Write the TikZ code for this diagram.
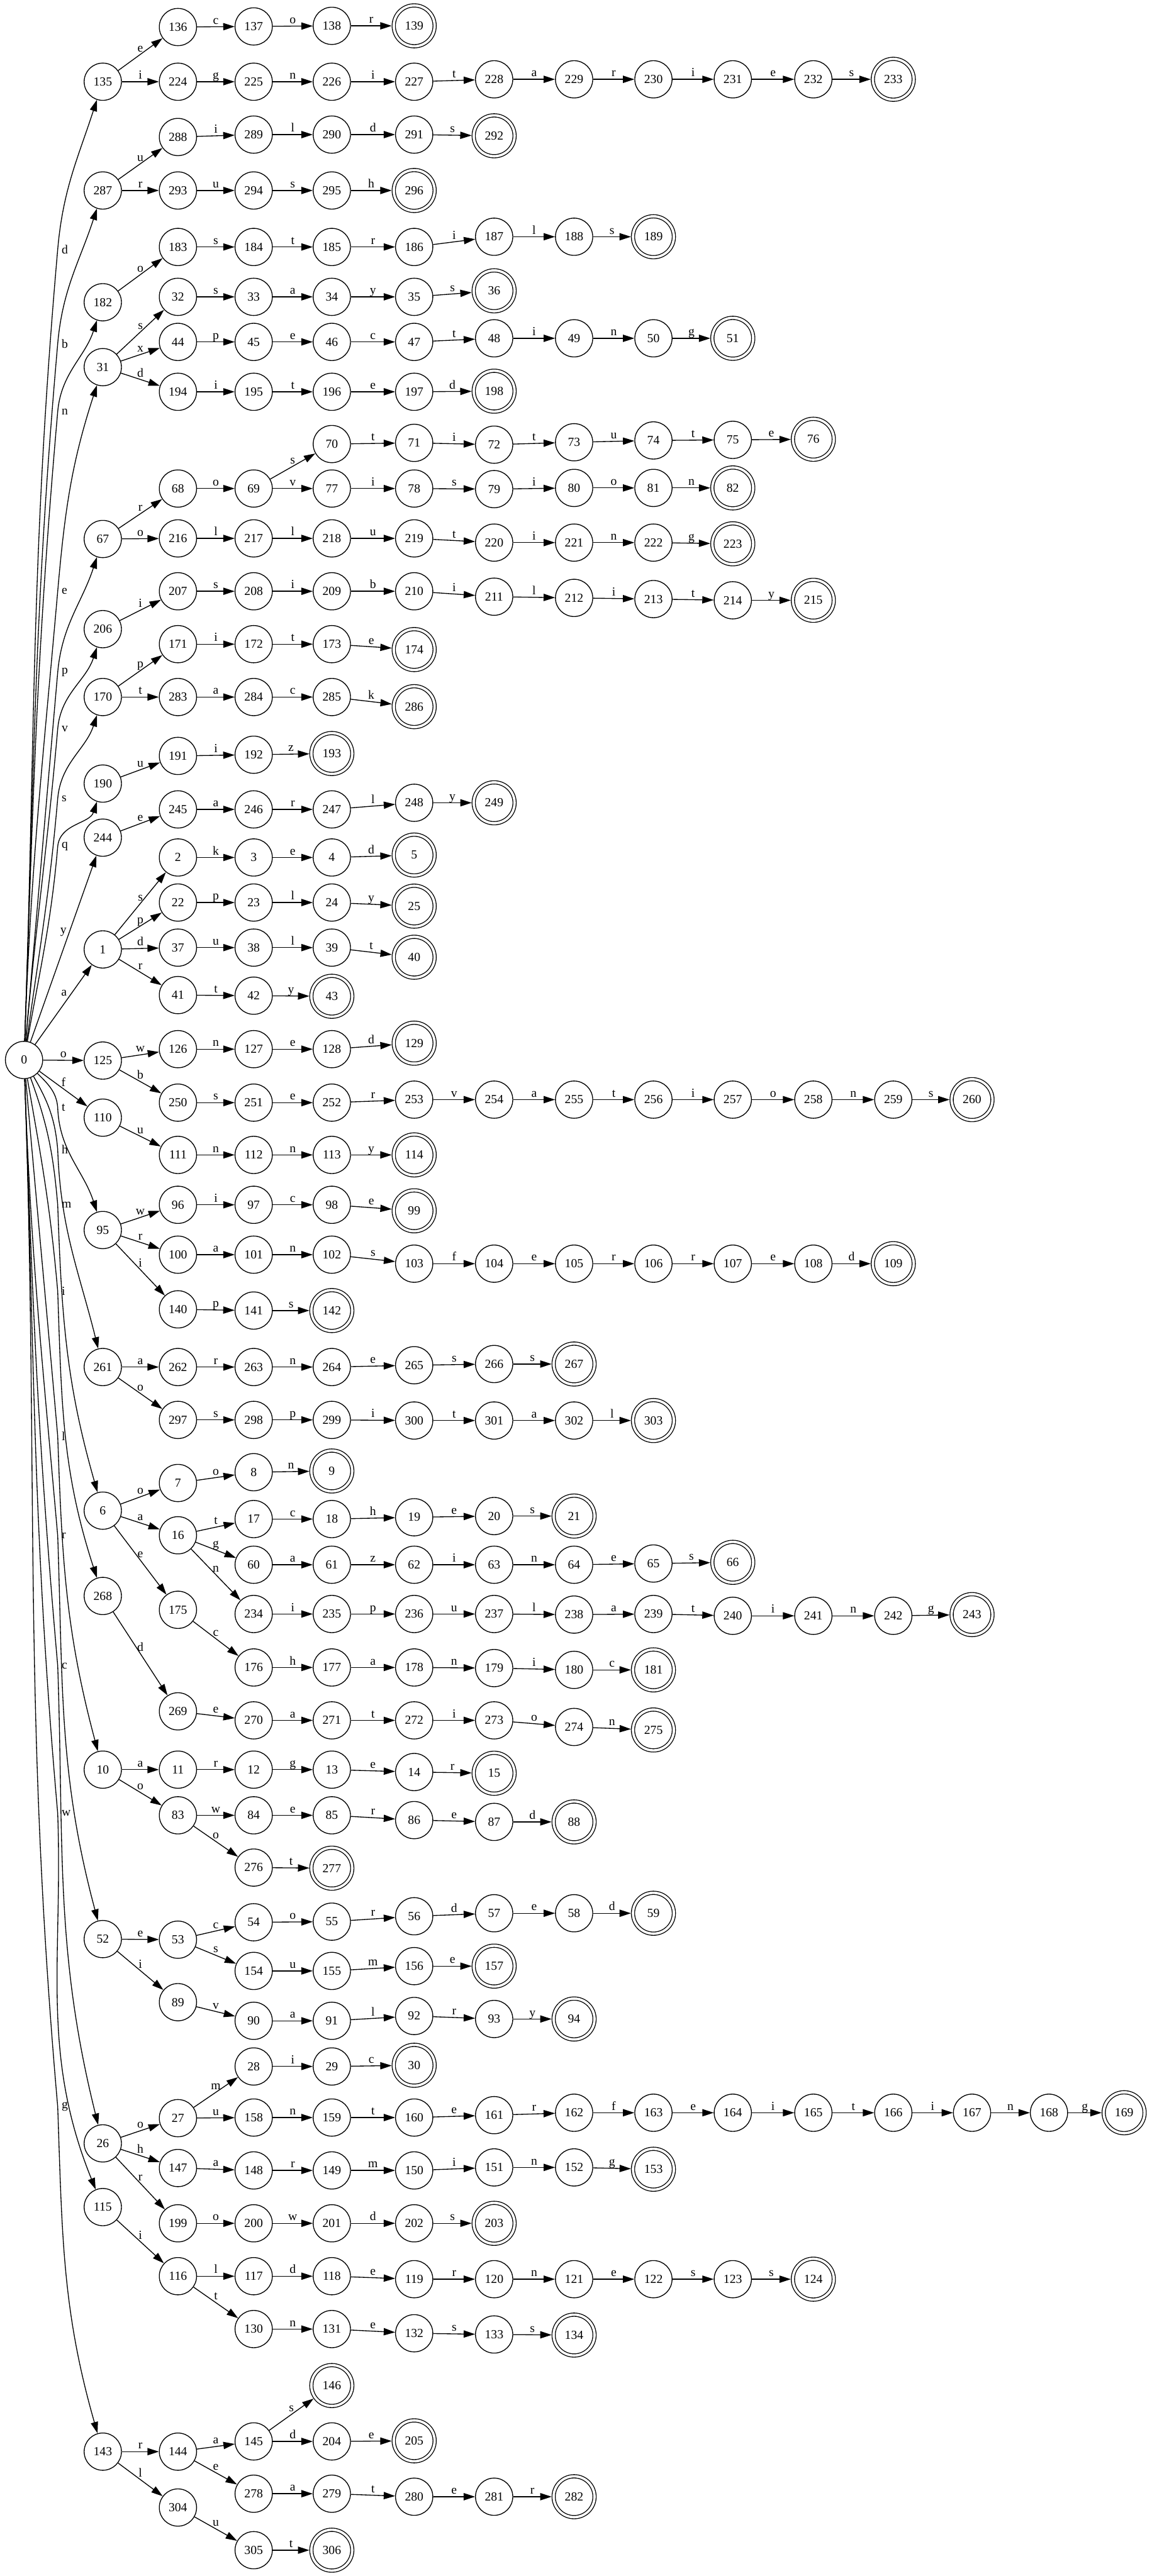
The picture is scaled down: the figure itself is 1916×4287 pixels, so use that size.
\documentclass[tikz,border=0pt]{standalone}
\usepackage{fontspec}
\setmainfont{Liberation Serif}
\usepackage{tikz}
\usetikzlibrary{positioning, arrows.meta}

\newcommand{\statefont}{\fontsize{10.3}{12}\selectfont}

\begin{document}
\begin{tikzpicture}[
    x=0.5pt, y=-0.5pt,
    state/.style={draw=black, line width=0.7pt, circle, minimum size=31pt, inner sep=0pt, font=\statefont},
    finalstate/.style={state, double, double distance=2pt, minimum size=34pt, outer sep=1.7pt},
    edge/.style={line width=0.7pt, -{Triangle[length=9.5pt, width=6pt]}},
    letter/.style={above, inner sep=1pt, font=\statefont, text height=1.4ex, text depth=0.2ex},
    rootletter/.style={inner sep=1pt, font=\statefont}
]

\useasboundingbox[fill=white] (0,0) rectangle (1916,4287);

% Knoten
\node[state] (s0) at (40,1764) {0};

\node[state] (s135) at (171,136) {135};
\node[state] (s136) at (296,45) {136};
\node[state] (s137) at (422,44) {137};
\node[state] (s138) at (552,43) {138};
\node[finalstate] (s139) at (689,43) {139};
\node[state] (s224) at (296,136) {224};
\node[state] (s225) at (422,136) {225};
\node[state] (s226) at (552,136) {226};
\node[state] (s227) at (689,136) {227};
\node[state] (s228) at (822,132) {228};
\node[state] (s229) at (955,132) {229};
\node[state] (s230) at (1087,132) {230};
\node[state] (s231) at (1219,132) {231};
\node[state] (s232) at (1353,132) {232};
\node[finalstate] (s233) at (1486,132) {233};

\node[state] (s287) at (171,317) {287};
\node[state] (s288) at (296,228) {288};
\node[state] (s289) at (422,224) {289};
\node[state] (s290) at (552,224) {290};
\node[state] (s291) at (689,224) {291};
\node[finalstate] (s292) at (822,226) {292};
\node[state] (s293) at (296,317) {293};
\node[state] (s294) at (422,317) {294};
\node[state] (s295) at (552,317) {295};
\node[finalstate] (s296) at (689,317) {296};

\node[state] (s182) at (171,503) {182};
\node[state] (s183) at (296,411) {183};
\node[state] (s184) at (422,411) {184};
\node[state] (s185) at (552,411) {185};
\node[state] (s186) at (689,411) {186};
\node[state] (s187) at (822,394) {187};
\node[state] (s188) at (955,394) {188};
\node[finalstate] (s189) at (1087,394) {189};

\node[state] (s31) at (171,611) {31};
\node[state] (s32) at (296,494) {32};
\node[state] (s33) at (422,494) {33};
\node[state] (s34) at (552,494) {34};
\node[state] (s35) at (689,494) {35};
\node[finalstate] (s36) at (822,484) {36};
\node[state] (s44) at (296,569) {44};
\node[state] (s45) at (422,569) {45};
\node[state] (s46) at (552,569) {46};
\node[state] (s47) at (689,569) {47};
\node[state] (s48) at (822,563) {48};
\node[state] (s49) at (955,563) {49};
\node[state] (s50) at (1087,563) {50};
\node[finalstate] (s51) at (1219,563) {51};
\node[state] (s194) at (296,652) {194};
\node[state] (s195) at (422,652) {195};
\node[state] (s196) at (552,652) {196};
\node[state] (s197) at (689,652) {197};
\node[finalstate] (s198) at (822,651) {198};

\node[state] (s67) at (171,897) {67};
\node[state] (s68) at (296,813) {68};
\node[state] (s69) at (422,813) {69};
\node[state] (s70) at (552,739) {70};
\node[state] (s71) at (689,737) {71};
\node[state] (s72) at (822,740) {72};
\node[state] (s73) at (955,736) {73};
\node[state] (s74) at (1087,733) {74};
\node[state] (s75) at (1219,732) {75};
\node[finalstate] (s76) at (1353,731) {76};
\node[state] (s77) at (552,813) {77};
\node[state] (s78) at (689,813) {78};
\node[state] (s79) at (822,814) {79};
\node[state] (s80) at (955,812) {80};
\node[state] (s81) at (1087,812) {81};
\node[finalstate] (s82) at (1219,812) {82};
\node[state] (s216) at (296,896) {216};
\node[state] (s217) at (422,896) {217};
\node[state] (s218) at (552,896) {218};
\node[state] (s219) at (689,896) {219};
\node[state] (s220) at (822,903) {220};
\node[state] (s221) at (955,903) {221};
\node[state] (s222) at (1087,903) {222};
\node[finalstate] (s223) at (1219,905) {223};

\node[state] (s206) at (171,1047) {206};
\node[state] (s207) at (296,984) {207};
\node[state] (s208) at (422,984) {208};
\node[state] (s209) at (552,984) {209};
\node[state] (s210) at (689,984) {210};
\node[state] (s211) at (822,993) {211};
\node[state] (s212) at (955,995) {212};
\node[state] (s213) at (1087,997) {213};
\node[state] (s214) at (1219,999) {214};
\node[finalstate] (s215) at (1353,999) {215};

\node[state] (s170) at (171,1160) {170};
\node[state] (s171) at (296,1072) {171};
\node[state] (s172) at (422,1072) {172};
\node[state] (s173) at (552,1072) {173};
\node[finalstate] (s174) at (689,1081) {174};
\node[state] (s283) at (296,1160) {283};
\node[state] (s284) at (422,1160) {284};
\node[state] (s285) at (552,1160) {285};
\node[finalstate] (s286) at (689,1176) {286};

\node[state] (s190) at (171,1304) {190};
\node[state] (s191) at (296,1258) {191};
\node[state] (s192) at (422,1256) {192};
\node[finalstate] (s193) at (552,1254) {193};

\node[state] (s244) at (171,1394) {244};
\node[state] (s245) at (296,1347) {245};
\node[state] (s246) at (422,1347) {246};
\node[state] (s247) at (552,1347) {247};
\node[state] (s248) at (689,1336) {248};
\node[finalstate] (s249) at (822,1336) {249};

\node[state] (s1) at (171,1580) {1};
\node[state] (s2) at (296,1427) {2};
\node[state] (s3) at (422,1427) {3};
\node[state] (s4) at (552,1427) {4};
\node[finalstate] (s5) at (689,1423) {5};
\node[state] (s22) at (296,1502) {22};
\node[state] (s23) at (422,1502) {23};
\node[state] (s24) at (552,1502) {24};
\node[finalstate] (s25) at (689,1508) {25};
\node[state] (s37) at (296,1577) {37};
\node[state] (s38) at (422,1577) {38};
\node[state] (s39) at (552,1577) {39};
\node[finalstate] (s40) at (689,1593) {40};
\node[state] (s41) at (296,1656) {41};
\node[state] (s42) at (422,1657) {42};
\node[finalstate] (s43) at (552,1658) {43};

\node[state] (s125) at (171,1765) {125};
\node[state] (s126) at (296,1746) {126};
\node[state] (s127) at (422,1746) {127};
\node[state] (s128) at (552,1746) {128};
\node[finalstate] (s129) at (689,1736) {129};
\node[state] (s250) at (296,1835) {250};
\node[state] (s251) at (422,1835) {251};
\node[state] (s252) at (552,1835) {252};
\node[state] (s253) at (689,1830) {253};
\node[state] (s254) at (822,1830) {254};
\node[state] (s255) at (955,1830) {255};
\node[state] (s256) at (1087,1830) {256};
\node[state] (s257) at (1219,1830) {257};
\node[state] (s258) at (1353,1830) {258};
\node[state] (s259) at (1486,1830) {259};
\node[finalstate] (s260) at (1617,1830) {260};

\node[state] (s110) at (171,1860) {110};
\node[state] (s111) at (296,1922) {111};
\node[state] (s112) at (422,1922) {112};
\node[state] (s113) at (552,1922) {113};
\node[finalstate] (s114) at (689,1922) {114};

\node[state] (s95) at (171,2047) {95};
\node[state] (s96) at (296,2005) {96};
\node[state] (s97) at (422,2005) {97};
\node[state] (s98) at (552,2005) {98};
\node[finalstate] (s99) at (689,2015) {99};
\node[state] (s100) at (296,2088) {100};
\node[state] (s101) at (422,2088) {101};
\node[state] (s102) at (552,2088) {102};
\node[state] (s103) at (689,2103) {103};
\node[state] (s104) at (822,2103) {104};
\node[state] (s105) at (955,2103) {105};
\node[state] (s106) at (1087,2103) {106};
\node[state] (s107) at (1219,2103) {107};
\node[state] (s108) at (1353,2103) {108};
\node[finalstate] (s109) at (1486,2103) {109};
\node[state] (s140) at (296,2179) {140};
\node[state] (s141) at (422,2181) {141};
\node[finalstate] (s142) at (552,2181) {142};

\node[state] (s261) at (171,2275) {261};
\node[state] (s262) at (296,2275) {262};
\node[state] (s263) at (422,2275) {263};
\node[state] (s264) at (552,2275) {264};
\node[state] (s265) at (689,2272) {265};
\node[state] (s266) at (822,2270) {266};
\node[finalstate] (s267) at (955,2270) {267};
\node[state] (s297) at (296,2363) {297};
\node[state] (s298) at (422,2363) {298};
\node[state] (s299) at (552,2363) {299};
\node[state] (s300) at (689,2364) {300};
\node[state] (s301) at (822,2364) {301};
\node[state] (s302) at (955,2364) {302};
\node[finalstate] (s303) at (1087,2364) {303};

\node[state] (s6) at (171,2514) {6};
\node[state] (s7) at (296,2468) {7};
\node[state] (s8) at (422,2450) {8};
\node[finalstate] (s9) at (552,2448) {9};
\node[state] (s16) at (296,2555) {16};
\node[state] (s17) at (422,2528) {17};
\node[state] (s18) at (552,2528) {18};
\node[state] (s19) at (689,2525) {19};
\node[state] (s20) at (822,2523) {20};
\node[finalstate] (s21) at (955,2523) {21};
\node[state] (s60) at (422,2604) {60};
\node[state] (s61) at (552,2604) {61};
\node[state] (s62) at (689,2604) {62};
\node[state] (s63) at (822,2604) {63};
\node[state] (s64) at (955,2604) {64};
\node[state] (s65) at (1087,2602) {65};
\node[finalstate] (s66) at (1219,2600) {66};
\node[state] (s234) at (422,2686) {234};
\node[state] (s235) at (552,2686) {235};
\node[state] (s236) at (689,2686) {236};
\node[state] (s237) at (822,2686) {237};
\node[state] (s238) at (955,2687) {238};
\node[state] (s239) at (1087,2686) {239};
\node[state] (s240) at (1219,2689) {240};
\node[state] (s241) at (1353,2689) {241};
\node[state] (s242) at (1486,2689) {242};
\node[finalstate] (s243) at (1617,2687) {243};
\node[state] (s175) at (296,2679) {175};
\node[state] (s176) at (422,2775) {176};
\node[state] (s177) at (552,2775) {177};
\node[state] (s178) at (689,2775) {178};
\node[state] (s179) at (822,2776) {179};
\node[state] (s180) at (955,2779) {180};
\node[finalstate] (s181) at (1087,2779) {181};

\node[state] (s268) at (171,2656) {268};
\node[state] (s269) at (296,2848) {269};
\node[state] (s270) at (422,2863) {270};
\node[state] (s271) at (552,2863) {271};
\node[state] (s272) at (689,2863) {272};
\node[state] (s273) at (822,2863) {273};
\node[state] (s274) at (955,2874) {274};
\node[finalstate] (s275) at (1087,2879) {275};

\node[state] (s10) at (171,2945) {10};
\node[state] (s11) at (296,2945) {11};
\node[state] (s12) at (422,2945) {12};
\node[state] (s13) at (552,2945) {13};
\node[state] (s14) at (689,2949) {14};
\node[finalstate] (s15) at (822,2951) {15};
\node[state] (s83) at (296,3021) {83};
\node[state] (s84) at (422,3021) {84};
\node[state] (s85) at (552,3021) {85};
\node[state] (s86) at (689,3029) {86};
\node[state] (s87) at (822,3032) {87};
\node[finalstate] (s88) at (955,3032) {88};
\node[state] (s276) at (422,3108) {276};
\node[finalstate] (s277) at (552,3109) {277};

\node[state] (s52) at (171,3227) {52};
\node[state] (s53) at (296,3228) {53};
\node[state] (s54) at (422,3199) {54};
\node[state] (s55) at (552,3198) {55};
\node[state] (s56) at (689,3189) {56};
\node[state] (s57) at (822,3184) {57};
\node[state] (s58) at (955,3184) {58};
\node[finalstate] (s59) at (1087,3184) {59};
\node[state] (s154) at (422,3280) {154};
\node[state] (s155) at (552,3280) {155};
\node[state] (s156) at (689,3272) {156};
\node[finalstate] (s157) at (822,3272) {157};
\node[state] (s89) at (296,3332) {89};
\node[state] (s90) at (422,3363) {90};
\node[state] (s91) at (552,3363) {91};
\node[state] (s92) at (689,3355) {92};
\node[state] (s93) at (822,3360) {93};
\node[finalstate] (s94) at (955,3360) {94};

\node[state] (s26) at (171,3567) {26};
\node[state] (s27) at (296,3525) {27};
\node[state] (s28) at (422,3439) {28};
\node[state] (s29) at (552,3439) {29};
\node[finalstate] (s30) at (689,3437) {30};
\node[state] (s158) at (422,3524) {158};
\node[state] (s159) at (552,3524) {159};
\node[state] (s160) at (689,3524) {160};
\node[state] (s161) at (822,3520) {161};
\node[state] (s162) at (955,3516) {162};
\node[state] (s163) at (1087,3516) {163};
\node[state] (s164) at (1219,3516) {164};
\node[state] (s165) at (1353,3516) {165};
\node[state] (s166) at (1486,3516) {166};
\node[state] (s167) at (1617,3516) {167};
\node[state] (s168) at (1745,3516) {168};
\node[finalstate] (s169) at (1870,3516) {169};
\node[state] (s147) at (296,3608) {147};
\node[state] (s148) at (422,3612) {148};
\node[state] (s149) at (552,3612) {149};
\node[state] (s150) at (689,3612) {150};
\node[state] (s151) at (822,3607) {151};
\node[state] (s152) at (955,3607) {152};
\node[finalstate] (s153) at (1087,3610) {153};
\node[state] (s199) at (296,3700) {199};
\node[state] (s200) at (422,3700) {200};
\node[state] (s201) at (552,3700) {201};
\node[state] (s202) at (689,3700) {202};
\node[finalstate] (s203) at (822,3700) {203};

\node[state] (s115) at (171,3673) {115};
\node[state] (s116) at (296,3788) {116};
\node[state] (s117) at (422,3788) {117};
\node[state] (s118) at (552,3788) {118};
\node[state] (s119) at (689,3793) {119};
\node[state] (s120) at (822,3793) {120};
\node[state] (s121) at (955,3793) {121};
\node[state] (s122) at (1087,3793) {122};
\node[state] (s123) at (1219,3793) {123};
\node[finalstate] (s124) at (1353,3793) {124};
\node[state] (s130) at (422,3876) {130};
\node[state] (s131) at (552,3876) {131};
\node[state] (s132) at (689,3883) {132};
\node[state] (s133) at (822,3885) {133};
\node[finalstate] (s134) at (955,3886) {134};

\node[state] (s143) at (171,4080) {143};
\node[state] (s144) at (296,4080) {144};
\node[state] (s145) at (422,4063) {145};
\node[finalstate] (s146) at (552,3970) {146};
\node[state] (s204) at (552,4063) {204};
\node[finalstate] (s205) at (689,4062) {205};
\node[state] (s278) at (422,4150) {278};
\node[state] (s279) at (552,4150) {279};
\node[state] (s280) at (689,4155) {280};
\node[state] (s281) at (822,4155) {281};
\node[finalstate] (s282) at (955,4155) {282};
\node[state] (s304) at (296,4173) {304};
\node[state] (s305) at (422,4244) {305};
\node[finalstate] (s306) at (552,4244) {306};

% Kanten von der Wurzel
\draw[edge] (s0) to[out=88, in=-95] (96,415) node[rootletter, right=2pt] {d} to[out=85, in=-108] (s135);
\draw[edge] (s0) to[out=88, in=-95] (96,572) node[rootletter, right=2pt] {b} to[out=85, in=-108] (s287);
\draw[edge] (s0) to[out=88, in=-95] (96,685) node[rootletter, right=2pt] {n} to[out=85, in=-108] (s182);
\draw[edge] (s0) to[out=88, in=-95] (96,984) node[rootletter, right=2pt] {e} to[out=85, in=-108] (s31);
\draw[edge] (s0) to[out=85, in=-95] (96,1119) node[rootletter, right=2pt] {p} to[out=85, in=-108] (s67);
\draw[edge] (s0) to[out=85, in=-95] (96,1213) node[rootletter, right=2pt] {v} to[out=85, in=-108] (s206);
\draw[edge] (s0) to[out=82, in=-95] (96,1329) node[rootletter, right=2pt] {s} to[out=85, in=-108] (s170);
\draw[edge] (s0) to[out=80, in=-95] (96,1409) node[rootletter, right=2pt] {q} to[out=85, in=-108] (s190);
\draw[edge] (s0) -- node[rootletter, pos=0.59, left=1pt] {y} (s244);
\draw[edge] (s0) -- node[rootletter, pos=0.65, left=3pt] {a} (s1);
\draw[edge] (s0) -- node[letter] {o} (s125);
\draw[edge] (s0) -- node[rootletter, pos=0.3, right=5pt] {f} (s110);
\draw[edge] (s0) to[out=-45, in=95] (96,1843) node[rootletter, right=2pt] {t} to[out=-88, in=108] (s95);
\draw[edge] (s0) to[out=-60, in=95] (96,1913) node[rootletter, right=2pt] {h} to[out=-88, in=104] (s261);
\draw[edge] (s0) to[out=-70, in=95] (96,2005) node[rootletter, right=2pt] {m} to[out=-88, in=106] (s6);
\draw[edge] (s0) to[out=-80, in=95] (96,2149) node[rootletter, right=2pt] {i} to[out=-88, in=108] (s268);
\draw[edge] (s0) to[out=-85, in=95] (96,2390) node[rootletter, right=2pt] {l} to[out=-88, in=105] (s10);
\draw[edge] (s0) to[out=-88, in=95] (96,2556) node[rootletter, right=2pt] {r} to[out=-88, in=105] (s52);
\draw[edge] (s0) to[out=-88, in=95] (96,2772) node[rootletter, right=2pt] {c} to[out=-88, in=104] (s26);
\draw[edge] (s0) to[out=-88, in=95] (96,3018) node[rootletter, right=2pt] {w} to[out=-88, in=112] (s115);
\draw[edge] (s0) to[out=-88, in=95] (96,3506) node[rootletter, right=2pt] {g} to[out=-88, in=106] (s143);

% Kanten zwischen Knoten
\draw[edge] (s135) -- node[letter] {e} (s136);
\draw[edge] (s136) -- node[letter] {c} (s137);
\draw[edge] (s137) -- node[letter] {o} (s138);
\draw[edge] (s138) -- node[letter] {r} (s139);
\draw[edge] (s135) -- node[letter] {i} (s224);
\draw[edge] (s224) -- node[letter] {g} (s225);
\draw[edge] (s225) -- node[letter] {n} (s226);
\draw[edge] (s226) -- node[letter] {i} (s227);
\draw[edge] (s227) -- node[letter] {t} (s228);
\draw[edge] (s228) -- node[letter] {a} (s229);
\draw[edge] (s229) -- node[letter] {r} (s230);
\draw[edge] (s230) -- node[letter] {i} (s231);
\draw[edge] (s231) -- node[letter] {e} (s232);
\draw[edge] (s232) -- node[letter] {s} (s233);

\draw[edge] (s287) -- node[letter] {u} (s288);
\draw[edge] (s288) -- node[letter] {i} (s289);
\draw[edge] (s289) -- node[letter] {l} (s290);
\draw[edge] (s290) -- node[letter] {d} (s291);
\draw[edge] (s291) -- node[letter] {s} (s292);
\draw[edge] (s287) -- node[letter] {r} (s293);
\draw[edge] (s293) -- node[letter] {u} (s294);
\draw[edge] (s294) -- node[letter] {s} (s295);
\draw[edge] (s295) -- node[letter] {h} (s296);

\draw[edge] (s182) -- node[letter] {o} (s183);
\draw[edge] (s183) -- node[letter] {s} (s184);
\draw[edge] (s184) -- node[letter] {t} (s185);
\draw[edge] (s185) -- node[letter] {r} (s186);
\draw[edge] (s186) -- node[letter] {i} (s187);
\draw[edge] (s187) -- node[letter] {l} (s188);
\draw[edge] (s188) -- node[letter] {s} (s189);

\draw[edge] (s31) -- node[letter] {s} (s32);
\draw[edge] (s32) -- node[letter] {s} (s33);
\draw[edge] (s33) -- node[letter] {a} (s34);
\draw[edge] (s34) -- node[letter] {y} (s35);
\draw[edge] (s35) -- node[letter] {s} (s36);
\draw[edge] (s31) -- node[letter] {x} (s44);
\draw[edge] (s44) -- node[letter] {p} (s45);
\draw[edge] (s45) -- node[letter] {e} (s46);
\draw[edge] (s46) -- node[letter] {c} (s47);
\draw[edge] (s47) -- node[letter] {t} (s48);
\draw[edge] (s48) -- node[letter] {i} (s49);
\draw[edge] (s49) -- node[letter] {n} (s50);
\draw[edge] (s50) -- node[letter] {g} (s51);
\draw[edge] (s31) -- node[letter] {d} (s194);
\draw[edge] (s194) -- node[letter] {i} (s195);
\draw[edge] (s195) -- node[letter] {t} (s196);
\draw[edge] (s196) -- node[letter] {e} (s197);
\draw[edge] (s197) -- node[letter] {d} (s198);

\draw[edge] (s67) -- node[letter] {r} (s68);
\draw[edge] (s68) -- node[letter] {o} (s69);
\draw[edge] (s69) -- node[letter] {s} (s70);
\draw[edge] (s70) -- node[letter] {t} (s71);
\draw[edge] (s71) -- node[letter] {i} (s72);
\draw[edge] (s72) -- node[letter] {t} (s73);
\draw[edge] (s73) -- node[letter] {u} (s74);
\draw[edge] (s74) -- node[letter] {t} (s75);
\draw[edge] (s75) -- node[letter] {e} (s76);
\draw[edge] (s69) -- node[letter] {v} (s77);
\draw[edge] (s77) -- node[letter] {i} (s78);
\draw[edge] (s78) -- node[letter] {s} (s79);
\draw[edge] (s79) -- node[letter] {i} (s80);
\draw[edge] (s80) -- node[letter] {o} (s81);
\draw[edge] (s81) -- node[letter] {n} (s82);
\draw[edge] (s67) -- node[letter] {o} (s216);
\draw[edge] (s216) -- node[letter] {l} (s217);
\draw[edge] (s217) -- node[letter] {l} (s218);
\draw[edge] (s218) -- node[letter] {u} (s219);
\draw[edge] (s219) -- node[letter] {t} (s220);
\draw[edge] (s220) -- node[letter] {i} (s221);
\draw[edge] (s221) -- node[letter] {n} (s222);
\draw[edge] (s222) -- node[letter] {g} (s223);

\draw[edge] (s206) -- node[letter] {i} (s207);
\draw[edge] (s207) -- node[letter] {s} (s208);
\draw[edge] (s208) -- node[letter] {i} (s209);
\draw[edge] (s209) -- node[letter] {b} (s210);
\draw[edge] (s210) -- node[letter] {i} (s211);
\draw[edge] (s211) -- node[letter] {l} (s212);
\draw[edge] (s212) -- node[letter] {i} (s213);
\draw[edge] (s213) -- node[letter] {t} (s214);
\draw[edge] (s214) -- node[letter] {y} (s215);

\draw[edge] (s170) -- node[letter] {p} (s171);
\draw[edge] (s171) -- node[letter] {i} (s172);
\draw[edge] (s172) -- node[letter] {t} (s173);
\draw[edge] (s173) -- node[letter] {e} (s174);
\draw[edge] (s170) -- node[letter] {t} (s283);
\draw[edge] (s283) -- node[letter] {a} (s284);
\draw[edge] (s284) -- node[letter] {c} (s285);
\draw[edge] (s285) -- node[letter] {k} (s286);

\draw[edge] (s190) -- node[letter] {u} (s191);
\draw[edge] (s191) -- node[letter] {i} (s192);
\draw[edge] (s192) -- node[letter] {z} (s193);

\draw[edge] (s244) -- node[letter] {e} (s245);
\draw[edge] (s245) -- node[letter] {a} (s246);
\draw[edge] (s246) -- node[letter] {r} (s247);
\draw[edge] (s247) -- node[letter] {l} (s248);
\draw[edge] (s248) -- node[letter] {y} (s249);

\draw[edge] (s1) -- node[letter] {s} (s2);
\draw[edge] (s2) -- node[letter] {k} (s3);
\draw[edge] (s3) -- node[letter] {e} (s4);
\draw[edge] (s4) -- node[letter] {d} (s5);
\draw[edge] (s1) -- node[letter] {p} (s22);
\draw[edge] (s22) -- node[letter] {p} (s23);
\draw[edge] (s23) -- node[letter] {l} (s24);
\draw[edge] (s24) -- node[letter] {y} (s25);
\draw[edge] (s1) -- node[letter] {d} (s37);
\draw[edge] (s37) -- node[letter] {u} (s38);
\draw[edge] (s38) -- node[letter] {l} (s39);
\draw[edge] (s39) -- node[letter] {t} (s40);
\draw[edge] (s1) -- node[letter] {r} (s41);
\draw[edge] (s41) -- node[letter] {t} (s42);
\draw[edge] (s42) -- node[letter] {y} (s43);

\draw[edge] (s125) -- node[letter] {w} (s126);
\draw[edge] (s126) -- node[letter] {n} (s127);
\draw[edge] (s127) -- node[letter] {e} (s128);
\draw[edge] (s128) -- node[letter] {d} (s129);
\draw[edge] (s125) -- node[letter] {b} (s250);
\draw[edge] (s250) -- node[letter] {s} (s251);
\draw[edge] (s251) -- node[letter] {e} (s252);
\draw[edge] (s252) -- node[letter] {r} (s253);
\draw[edge] (s253) -- node[letter] {v} (s254);
\draw[edge] (s254) -- node[letter] {a} (s255);
\draw[edge] (s255) -- node[letter] {t} (s256);
\draw[edge] (s256) -- node[letter] {i} (s257);
\draw[edge] (s257) -- node[letter] {o} (s258);
\draw[edge] (s258) -- node[letter] {n} (s259);
\draw[edge] (s259) -- node[letter] {s} (s260);

\draw[edge] (s110) -- node[letter] {u} (s111);
\draw[edge] (s111) -- node[letter] {n} (s112);
\draw[edge] (s112) -- node[letter] {n} (s113);
\draw[edge] (s113) -- node[letter] {y} (s114);

\draw[edge] (s95) -- node[letter] {w} (s96);
\draw[edge] (s96) -- node[letter] {i} (s97);
\draw[edge] (s97) -- node[letter] {c} (s98);
\draw[edge] (s98) -- node[letter] {e} (s99);
\draw[edge] (s95) -- node[letter] {r} (s100);
\draw[edge] (s100) -- node[letter] {a} (s101);
\draw[edge] (s101) -- node[letter] {n} (s102);
\draw[edge] (s102) -- node[letter] {s} (s103);
\draw[edge] (s103) -- node[letter] {f} (s104);
\draw[edge] (s104) -- node[letter] {e} (s105);
\draw[edge] (s105) -- node[letter] {r} (s106);
\draw[edge] (s106) -- node[letter] {r} (s107);
\draw[edge] (s107) -- node[letter] {e} (s108);
\draw[edge] (s108) -- node[letter] {d} (s109);
\draw[edge] (s95) -- node[letter] {i} (s140);
\draw[edge] (s140) -- node[letter] {p} (s141);
\draw[edge] (s141) -- node[letter] {s} (s142);

\draw[edge] (s261) -- node[letter] {a} (s262);
\draw[edge] (s262) -- node[letter] {r} (s263);
\draw[edge] (s263) -- node[letter] {n} (s264);
\draw[edge] (s264) -- node[letter] {e} (s265);
\draw[edge] (s265) -- node[letter] {s} (s266);
\draw[edge] (s266) -- node[letter] {s} (s267);
\draw[edge] (s261) -- node[letter] {o} (s297);
\draw[edge] (s297) -- node[letter] {s} (s298);
\draw[edge] (s298) -- node[letter] {p} (s299);
\draw[edge] (s299) -- node[letter] {i} (s300);
\draw[edge] (s300) -- node[letter] {t} (s301);
\draw[edge] (s301) -- node[letter] {a} (s302);
\draw[edge] (s302) -- node[letter] {l} (s303);

\draw[edge] (s6) -- node[letter] {o} (s7);
\draw[edge] (s7) -- node[letter] {o} (s8);
\draw[edge] (s8) -- node[letter] {n} (s9);
\draw[edge] (s6) -- node[letter] {a} (s16);
\draw[edge] (s16) -- node[letter] {t} (s17);
\draw[edge] (s17) -- node[letter] {c} (s18);
\draw[edge] (s18) -- node[letter] {h} (s19);
\draw[edge] (s19) -- node[letter] {e} (s20);
\draw[edge] (s20) -- node[letter] {s} (s21);
\draw[edge] (s16) -- node[letter] {g} (s60);
\draw[edge] (s60) -- node[letter] {a} (s61);
\draw[edge] (s61) -- node[letter] {z} (s62);
\draw[edge] (s62) -- node[letter] {i} (s63);
\draw[edge] (s63) -- node[letter] {n} (s64);
\draw[edge] (s64) -- node[letter] {e} (s65);
\draw[edge] (s65) -- node[letter] {s} (s66);
\draw[edge] (s16) -- node[letter] {n} (s234);
\draw[edge] (s234) -- node[letter] {i} (s235);
\draw[edge] (s235) -- node[letter] {p} (s236);
\draw[edge] (s236) -- node[letter] {u} (s237);
\draw[edge] (s237) -- node[letter] {l} (s238);
\draw[edge] (s238) -- node[letter] {a} (s239);
\draw[edge] (s239) -- node[letter] {t} (s240);
\draw[edge] (s240) -- node[letter] {i} (s241);
\draw[edge] (s241) -- node[letter] {n} (s242);
\draw[edge] (s242) -- node[letter] {g} (s243);
\draw[edge] (s6) -- node[letter] {e} (s175);
\draw[edge] (s175) -- node[letter] {c} (s176);
\draw[edge] (s176) -- node[letter] {h} (s177);
\draw[edge] (s177) -- node[letter] {a} (s178);
\draw[edge] (s178) -- node[letter] {n} (s179);
\draw[edge] (s179) -- node[letter] {i} (s180);
\draw[edge] (s180) -- node[letter] {c} (s181);

\draw[edge] (s268) -- node[letter] {d} (s269);
\draw[edge] (s269) -- node[letter] {e} (s270);
\draw[edge] (s270) -- node[letter] {a} (s271);
\draw[edge] (s271) -- node[letter] {t} (s272);
\draw[edge] (s272) -- node[letter] {i} (s273);
\draw[edge] (s273) -- node[letter] {o} (s274);
\draw[edge] (s274) -- node[letter] {n} (s275);

\draw[edge] (s10) -- node[letter] {a} (s11);
\draw[edge] (s11) -- node[letter] {r} (s12);
\draw[edge] (s12) -- node[letter] {g} (s13);
\draw[edge] (s13) -- node[letter] {e} (s14);
\draw[edge] (s14) -- node[letter] {r} (s15);
\draw[edge] (s10) -- node[letter] {o} (s83);
\draw[edge] (s83) -- node[letter] {w} (s84);
\draw[edge] (s84) -- node[letter] {e} (s85);
\draw[edge] (s85) -- node[letter] {r} (s86);
\draw[edge] (s86) -- node[letter] {e} (s87);
\draw[edge] (s87) -- node[letter] {d} (s88);
\draw[edge] (s83) -- node[letter] {o} (s276);
\draw[edge] (s276) -- node[letter] {t} (s277);

\draw[edge] (s52) -- node[letter] {e} (s53);
\draw[edge] (s53) -- node[letter] {c} (s54);
\draw[edge] (s54) -- node[letter] {o} (s55);
\draw[edge] (s55) -- node[letter] {r} (s56);
\draw[edge] (s56) -- node[letter] {d} (s57);
\draw[edge] (s57) -- node[letter] {e} (s58);
\draw[edge] (s58) -- node[letter] {d} (s59);
\draw[edge] (s53) -- node[letter] {s} (s154);
\draw[edge] (s154) -- node[letter] {u} (s155);
\draw[edge] (s155) -- node[letter] {m} (s156);
\draw[edge] (s156) -- node[letter] {e} (s157);
\draw[edge] (s52) -- node[letter] {i} (s89);
\draw[edge] (s89) -- node[letter] {v} (s90);
\draw[edge] (s90) -- node[letter] {a} (s91);
\draw[edge] (s91) -- node[letter] {l} (s92);
\draw[edge] (s92) -- node[letter] {r} (s93);
\draw[edge] (s93) -- node[letter] {y} (s94);

\draw[edge] (s26) -- node[letter] {o} (s27);
\draw[edge] (s27) -- node[letter] {m} (s28);
\draw[edge] (s28) -- node[letter] {i} (s29);
\draw[edge] (s29) -- node[letter] {c} (s30);
\draw[edge] (s27) -- node[letter] {u} (s158);
\draw[edge] (s158) -- node[letter] {n} (s159);
\draw[edge] (s159) -- node[letter] {t} (s160);
\draw[edge] (s160) -- node[letter] {e} (s161);
\draw[edge] (s161) -- node[letter] {r} (s162);
\draw[edge] (s162) -- node[letter] {f} (s163);
\draw[edge] (s163) -- node[letter] {e} (s164);
\draw[edge] (s164) -- node[letter] {i} (s165);
\draw[edge] (s165) -- node[letter] {t} (s166);
\draw[edge] (s166) -- node[letter] {i} (s167);
\draw[edge] (s167) -- node[letter] {n} (s168);
\draw[edge] (s168) -- node[letter] {g} (s169);
\draw[edge] (s26) -- node[letter] {h} (s147);
\draw[edge] (s147) -- node[letter] {a} (s148);
\draw[edge] (s148) -- node[letter] {r} (s149);
\draw[edge] (s149) -- node[letter] {m} (s150);
\draw[edge] (s150) -- node[letter] {i} (s151);
\draw[edge] (s151) -- node[letter] {n} (s152);
\draw[edge] (s152) -- node[letter] {g} (s153);
\draw[edge] (s26) -- node[letter] {r} (s199);
\draw[edge] (s199) -- node[letter] {o} (s200);
\draw[edge] (s200) -- node[letter] {w} (s201);
\draw[edge] (s201) -- node[letter] {d} (s202);
\draw[edge] (s202) -- node[letter] {s} (s203);

\draw[edge] (s115) -- node[letter] {i} (s116);
\draw[edge] (s116) -- node[letter] {l} (s117);
\draw[edge] (s117) -- node[letter] {d} (s118);
\draw[edge] (s118) -- node[letter] {e} (s119);
\draw[edge] (s119) -- node[letter] {r} (s120);
\draw[edge] (s120) -- node[letter] {n} (s121);
\draw[edge] (s121) -- node[letter] {e} (s122);
\draw[edge] (s122) -- node[letter] {s} (s123);
\draw[edge] (s123) -- node[letter] {s} (s124);
\draw[edge] (s116) -- node[letter] {t} (s130);
\draw[edge] (s130) -- node[letter] {n} (s131);
\draw[edge] (s131) -- node[letter] {e} (s132);
\draw[edge] (s132) -- node[letter] {s} (s133);
\draw[edge] (s133) -- node[letter] {s} (s134);

\draw[edge] (s143) -- node[letter] {r} (s144);
\draw[edge] (s144) -- node[letter] {a} (s145);
\draw[edge] (s145) -- node[letter] {s} (s146);
\draw[edge] (s145) -- node[letter] {d} (s204);
\draw[edge] (s204) -- node[letter] {e} (s205);
\draw[edge] (s144) -- node[letter] {e} (s278);
\draw[edge] (s278) -- node[letter] {a} (s279);
\draw[edge] (s279) -- node[letter] {t} (s280);
\draw[edge] (s280) -- node[letter] {e} (s281);
\draw[edge] (s281) -- node[letter] {r} (s282);
\draw[edge] (s143) -- node[letter] {l} (s304);
\draw[edge] (s304) -- node[letter] {u} (s305);
\draw[edge] (s305) -- node[letter] {t} (s306);

\end{tikzpicture}
\end{document}
